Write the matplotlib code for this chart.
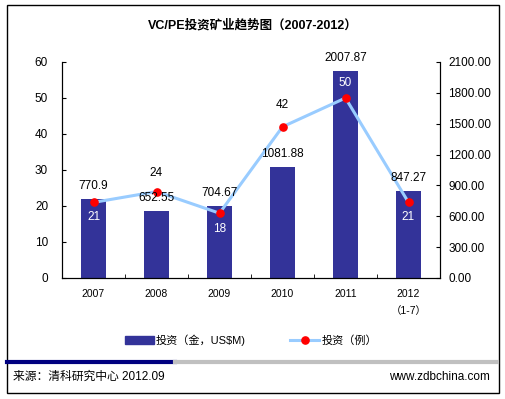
import matplotlib.pyplot as plt
from matplotlib.patches import Rectangle
from matplotlib.lines import Line2D
import numpy as np

plt.rcParams['font.family'] = ['Liberation Sans', 'Noto Sans CJK SC', 'DejaVu Sans']

# 数据
years = ['2007', '2008', '2009', '2010', '2011', '2012\n（1-7）']
amount = [770.9, 652.55, 704.67, 1081.88, 2007.87, 847.27]   # 投资（金，US$M）
deals = [21, 24, 18, 42, 50, 21]                           # 投资（例）

# 标签位置（像素偏移）和颜色
amount_label_shift = [13, 13, 13, 13, 13, 13]
deal_label_shift = [-15, 19, -16, 22, 15, -15]
deal_label_color = ['white', 'black', 'white', 'black', 'white', 'white']

bar_color = '#333399'
line_color = '#99CCFF'

fig = plt.figure(figsize=(5.05, 3.99), dpi=100)

# 外框
fig.patches.append(Rectangle((7 / 505, 1 - 393 / 399), 492 / 505, 388 / 399,
                             transform=fig.transFigure, fill=False,
                             edgecolor='black', linewidth=1))

ax_l = fig.add_axes([62 / 505, 1 - 278 / 399, 378 / 505, 216 / 399])
ax_r = ax_l.twinx()

x = np.arange(len(years))

# 柱状图在右轴
ax_r.bar(x, amount, width=0.4, color=bar_color, zorder=2)
ax_r.set_ylim(0, 2100)
ax_r.set_yticks(np.arange(0, 2101, 300))
ax_r.set_yticklabels([f"{v:.2f}" for v in np.arange(0, 2101, 300)])

# 折线在左轴
ax_l.set_zorder(ax_r.get_zorder() + 1)
ax_l.patch.set_visible(False)
ax_l.plot(x, deals, color=line_color, linewidth=2.2, marker='o',
          markersize=5.2, markerfacecolor='red', markeredgecolor='red', zorder=3)
ax_l.set_ylim(0, 60)
ax_l.set_yticks(range(0, 61, 10))

# 金额标签画在折线之上
for xi, v, dy in zip(x, amount, amount_label_shift):
    ax_l.annotate(f"{v:g}", (xi, v), xycoords=ax_r.transData, xytext=(0, dy),
                  textcoords='offset pixels', ha='center', va='center',
                  fontsize=8.5, zorder=5)
for xi, v, dy, c in zip(x, deals, deal_label_shift, deal_label_color):
    ax_l.annotate(str(v), (xi, v), xytext=(0, dy), textcoords='offset pixels',
                  ha='center', va='center', fontsize=8.5, color=c, zorder=5)

ax_l.set_xlim(-0.5, len(years) - 0.5)
ax_l.set_xticks(x)
ax_l.set_xticklabels(years, fontsize=7.5, linespacing=1.9)
ax_l.set_xticks(np.arange(0.5, len(years) - 0.5, 1), minor=True)
ax_l.tick_params(axis='x', which='major', length=0, pad=8)
ax_l.tick_params(axis='x', which='minor', direction='in', length=3)
ax_l.tick_params(axis='y', direction='in', length=3, labelsize=8.5, pad=10)
ax_r.tick_params(axis='y', direction='in', length=3, labelsize=8.5, pad=6)

for a in (ax_l, ax_r):
    a.spines['top'].set_visible(False)

fig.text(0.5, 1 - 25 / 399, 'VC/PE投资矿业趋势图（2007-2012）', ha='center', va='center',
         fontsize=9, fontweight='bold')

# 图例
handles = [Rectangle((0, 0), 1, 1, color=bar_color),
           Line2D([], [], color=line_color, linewidth=2.2, marker='o', markersize=5.2,
                  markerfacecolor='red', markeredgecolor='red')]
fig.legend(handles, ['投资（金，US$M)', '投资（例）'], loc='center',
           bbox_to_anchor=(0.497, 1 - 340 / 399), ncol=2, frameon=False,
           fontsize=8, handlelength=2.6, handleheight=0.7, columnspacing=4.0,
           handletextpad=0.2)

# 底部分隔线
fig.add_artist(Line2D([7 / 505, 175 / 505], [1 - 362 / 399] * 2, color='#000080',
                      linewidth=3, transform=fig.transFigure))
fig.add_artist(Line2D([175 / 505, 497 / 505], [1 - 362 / 399] * 2, color='#C0C0C0',
                      linewidth=3, transform=fig.transFigure))

fig.text(13 / 505, 1 - 377 / 399, '来源：清科研究中心 2012.09', ha='left', va='center',
         fontsize=8.5)
fig.text(490 / 505, 1 - 377 / 399, 'www.zdbchina.com', ha='right', va='center',
         fontsize=8.5)

fig.savefig('out.png', dpi=100)
